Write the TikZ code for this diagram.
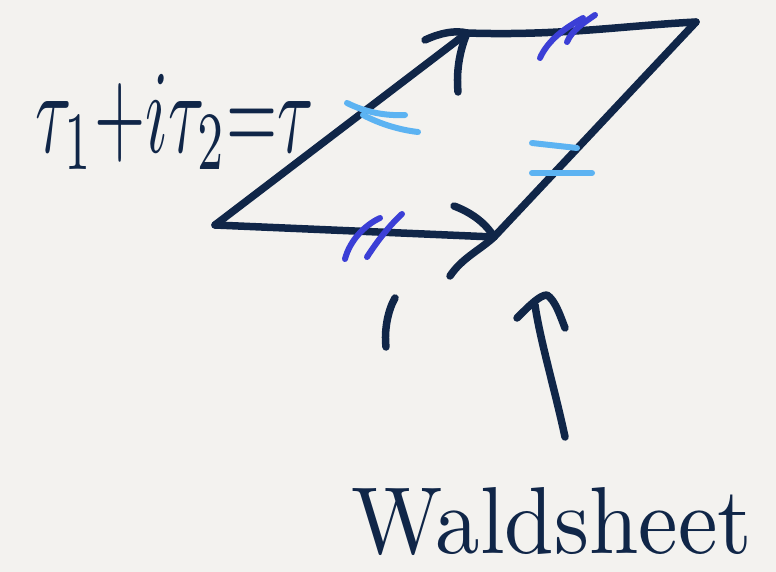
\documentclass[tikz,border=0pt]{standalone}
\usetikzlibrary{calc}
\definecolor{ink}{HTML}{102648}
\definecolor{tickc}{HTML}{3B3FD6}
\definecolor{lightc}{HTML}{5CB3F2}
\definecolor{paper}{HTML}{F3F2EF}
\begin{document}
\begin{tikzpicture}[x=1pt,y=-1pt,
  pen/.style={line width=7.5pt, line cap=round, line join=round, draw=ink},
  tickpen/.style={line width=6pt, line cap=round, draw=tickc},
  lightpen/.style={line width=6pt, line cap=round, draw=lightc}]
\fill[paper] (0,0) rectangle (776,572);
\useasboundingbox (0,0) rectangle (776,572);
\coordinate (BL) at (215,225);
\coordinate (BR) at (494,237);
\coordinate (TL) at (467,33);
\coordinate (TR) at (696,22);
% parallelogram
\draw[pen] (BL) -- (TL);
\draw[pen] (TL) .. controls (560,36) and (620,26) .. (TR);
\draw[pen] (TR) -- (BR);
\draw[pen] (BL) -- (BR);
% arrowheads
\draw[pen] (425,40) .. controls (440,33) and (455,30) .. (TL) .. controls (460,50) and (456,70) .. (458,92);
\draw[pen] (454,206) .. controls (470,212) and (485,222) .. (BR) .. controls (480,250) and (462,258) .. (450,276);
% identification ticks
\draw[tickpen] (345,259) .. controls (350,240) and (365,225) .. (380,218);
\draw[tickpen] (367,257) .. controls (378,240) and (390,225) .. (402,214);
\draw[tickpen] (540,58) .. controls (548,40) and (565,28) .. (583,18);
\draw[tickpen] (567,42) .. controls (572,30) and (585,22) .. (595,15);
\draw[lightpen] (347,103) .. controls (365,112) and (385,116) .. (405,115);
\draw[lightpen] (363,115) .. controls (380,124) and (400,130) .. (418,132);
\draw[lightpen] (532,143) -- (577,148);
\draw[lightpen] (532,173) -- (592,173);
% small mark
\draw[pen] (395,298) .. controls (388,310) and (384,330) .. (386,347);
% pointer arrow
\coordinate (tail) at (565,437);
\coordinate (tip) at (535,305);
\draw[pen] (tail) .. controls (555,390) and (540,340) .. (tip);
\draw[pen] (517,318) .. controls (530,305) and (540,295) .. (547,295) .. controls (555,300) and (560,315) .. (565,328);
% labels
\node[text=ink, inner sep=0pt] (tau) at (175,122) {\resizebox{278pt}{78pt}{$\tau_1{+}i\tau_2{=}\tau$}};
\node[text=ink, inner sep=0pt] (ws) at (552,522) {\resizebox{400pt}{66pt}{Waldsheet}};
\end{tikzpicture}
\end{document}
